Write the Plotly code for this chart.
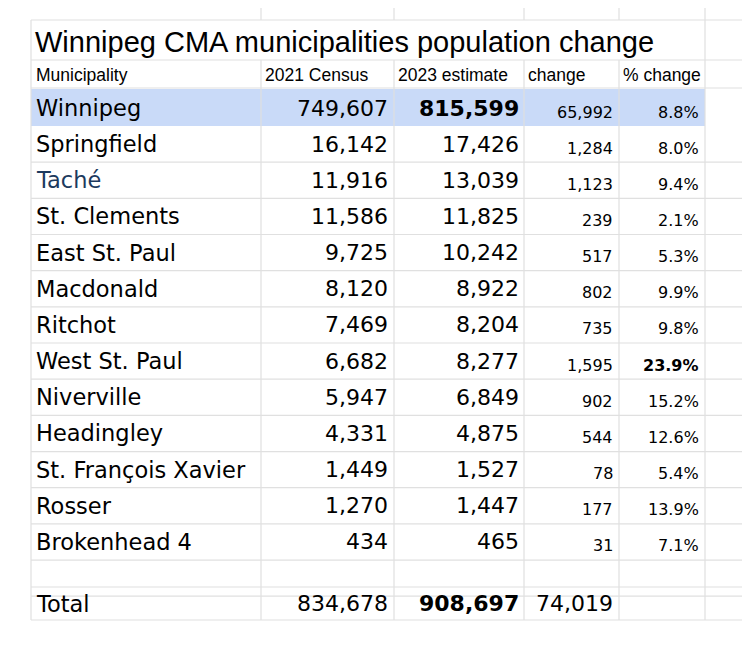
import plotly.graph_objects as go

title = "Winnipeg CMA municipalities population change"
headers = ["Municipality", "2021 Census", "2023 estimate", "change", "% change"]
municipalities = ["Winnipeg", "Springfield", "Taché", "St. Clements", "East St. Paul", "Macdonald",
                  "Ritchot", "West St. Paul", "Niverville", "Headingley", "St. François Xavier",
                  "Rosser", "Brokenhead 4"]
census_2021 = [749607, 16142, 11916, 11586, 9725, 8120, 7469, 6682, 5947, 4331, 1449, 1270, 434]
estimate_2023 = [815599, 17426, 13039, 11825, 10242, 8922, 8204, 8277, 6849, 4875, 1527, 1447, 465]
change = [65992, 1284, 1123, 239, 517, 802, 735, 1595, 902, 544, 78, 177, 31]
pct_change = ["8.8%", "8.0%", "9.4%", "2.1%", "5.3%", "9.9%", "9.8%", "23.9%", "15.2%", "12.6%",
              "5.4%", "13.9%", "7.1%"]
total_label = "Total"
total_2021 = 834678
total_2023 = 908697
total_change = 74019

W, H = 750, 646
OFF = 8  # page body margin
cols = [31, 261, 394, 524, 619, 705, W]
grid = "#e0e0e0"
row_top, row_h = 126, 36.17
n = len(municipalities)
total_top, total_bot = 587, 620

shapes, ann = [], []
def hline(y, x0=31, x1=W):
    shapes.append(dict(type="line", x0=x0, x1=x1, y0=y, y1=y, line=dict(color=grid, width=1.2), layer="below"))
def vline(x, y0, y1):
    shapes.append(dict(type="line", x0=x, x1=x, y0=y0, y1=y1, line=dict(color=grid, width=1.2), layer="below"))

shapes.append(dict(type="rect", x0=31, x1=705, y0=89, y1=row_top, fillcolor="#c9daf8", line=dict(width=0), layer="below"))

for y in [20, 60, 88] + [row_top + row_h * i for i in range(1, n + 1)] + [total_top, total_bot]:
    hline(y)
for x in cols[1:-2]:
    vline(x, 0, 20)
    vline(x, 60, total_bot)
vline(705, 0, total_bot)
vline(31, 20, total_bot)

def txt(x, y, s, size, anchor, font="DejaVu Sans", color="#000", bold=False):
    if bold:
        s = "<b>" + s + "</b>"
    ann.append(dict(x=x, y=y, text=s, showarrow=False, xanchor=anchor, yanchor="middle",
                    font=dict(family=font, size=size, color=color), xref="x", yref="y"))

txt(33, 42, title, 29, "left", font="Liberation Sans")
hx = [34, 263, 396, 526, 621]
for h, x in zip(headers, hx):
    txt(x, 75, h, 17.5, "left", font="Liberation Sans")

fmt = lambda v: f"{v:,}"
for i in range(n):
    yc = 108 if i == 0 else row_top + row_h * (i - 1) + row_h / 2
    txt(34, yc, municipalities[i], 22.5, "left", color="#1c3a5e" if municipalities[i] == "Taché" else "#000")
    txt(390, yc, fmt(census_2021[i]), 22, "right")
    txt(521, yc, fmt(estimate_2023[i]), 22, "right", bold=(i == 0))
    txt(615, yc + 4, fmt(change[i]), 16, "right")
    txt(701, yc + 4, pct_change[i], 16, "right", bold=(pct_change[i] == "23.9%"))

yt = (total_top + total_bot) / 2
txt(34, yt, total_label, 22.5, "left")
txt(390, yt, fmt(total_2021), 22, "right")
txt(521, yt, fmt(total_2023), 22, "right", bold=True)
txt(615, yt, fmt(total_change), 22, "right")

fig = go.Figure()
fig.update_layout(width=W, height=H, margin=dict(l=0, r=0, t=0, b=0),
                  paper_bgcolor="white", plot_bgcolor="white", shapes=shapes, annotations=ann,
                  xaxis=dict(range=[OFF, W + OFF], visible=False, fixedrange=True),
                  yaxis=dict(range=[H + OFF, OFF], visible=False, fixedrange=True), showlegend=False)
fig.write_html("out.html", config={"displayModeBar": False})
